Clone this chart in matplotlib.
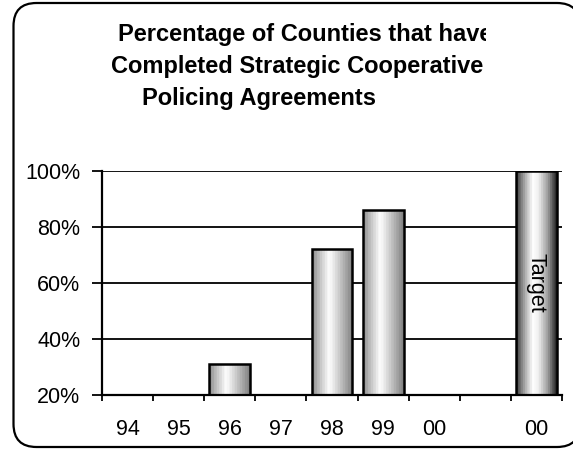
import numpy as np
import matplotlib
matplotlib.use("Agg")
import matplotlib.pyplot as plt
from matplotlib.patches import FancyBboxPatch
from matplotlib.colors import LinearSegmentedColormap
from matplotlib.transforms import Bbox

plt.rcParams["font.family"] = ["Liberation Sans", "DejaVu Sans"]

# ─── Data ────────────────────────────────────────────────────────────────
categories = ["94", "95", "96", "97", "98", "99", "00", "", "00"]
values = [None, None, 31, None, 72, 86, None, None, 100]
target_idx = 8
title_lines = ["Percentage of Counties that have",
               "Completed Strategic Cooperative",
               "Policing Agreements"]
yticks = [20, 40, 60, 80, 100]

W, H = 573, 449
fig = plt.figure(figsize=(W / 100, H / 100), dpi=100, facecolor="white")

# Background canvas in pixel coordinates for the rounded frame and title
bg = fig.add_axes([0, 0, 1, 1], zorder=0)
bg.set_xlim(0, W)
bg.set_ylim(H, 0)
bg.axis("off")
frame = FancyBboxPatch((13.5, 3), 580 - 13.5, 447 - 3,
                       boxstyle="round,pad=0,rounding_size=23",
                       fc="white", ec="black", lw=1.6)
bg.add_patch(frame)

# title is cut off on the right, like in the original
clip_box = Bbox.from_extents(0, 0, 486, H)
title_x = [305, 297, 259]
title_y = [41, 73, 105]
for txt, tx, ty in zip(title_lines, title_x, title_y):
    t = bg.text(tx, ty, txt, ha="center", va="baseline",
                fontsize=17, fontweight="bold", color="black")
    t.set_clip_on(True)
    t.set_clip_box(clip_box)

# ─── Plot area ───────────────────────────────────────────────────────────
ax = fig.add_axes([102 / W, 1 - 395 / H, (562 - 102) / W, (395 - 171) / H],
                  zorder=1)
ax.patch.set_alpha(0)
n = len(categories)

for y in yticks[1:]:
    ax.axhline(y, color="black", lw=1.3, zorder=1)

# Cylinder-like shading of the bars
reg_cmap = LinearSegmentedColormap.from_list(
    "reg", [(0, "#939393"), (0.15, "#bdbdbd"), (0.42, "#ffffff"),
            (0.75, "#bababa"), (1, "#858585")], N=16)
tgt_cmap = LinearSegmentedColormap.from_list(
    "tgt", [(0, "#444444"), (0.12, "#858585"), (0.4, "#ffffff"),
            (0.55, "#f0f0f0"), (0.8, "#9a9a9a"), (1, "#2c2c2c")], N=18)
grad = np.linspace(0, 1, 256).reshape(1, -1)

bw = 0.8
for i, v in enumerate(values):
    if v is None:
        continue
    bar = ax.bar(i + 0.5, v - 20, bottom=20, width=bw, fc="none",
                 ec="black", lw=1.8, zorder=3)[0]
    cmap = tgt_cmap if i == target_idx else reg_cmap
    im = ax.imshow(grad, cmap=cmap, aspect="auto", zorder=2,
                   extent=(i + 0.5 - bw / 2, i + 0.5 + bw / 2, 20, v))
    im.set_clip_path(bar)

ax.text(target_idx + 0.5, 60, "Target", rotation=-90, ha="center",
        va="center", fontsize=15.5, color="black", zorder=4)

ax.set_xlim(0, n)
ax.set_ylim(20, 100)

for s in ["top", "right"]:
    ax.spines[s].set_visible(False)
ax.spines["left"].set_linewidth(1.6)
ax.spines["bottom"].set_linewidth(1.6)

ax.set_yticks(yticks)
ax.set_yticklabels([f"{y}%" for y in yticks])
ax.tick_params(axis="y", direction="out", length=7.5, width=1.3,
               pad=8, labelsize=15.5)

ax.set_xticks(np.arange(n + 1))
ax.set_xticklabels([])
ax.set_xticks(np.arange(n) + 0.5, minor=True)
ax.set_xticklabels(categories, minor=True)
ax.tick_params(axis="x", which="major", direction="out", length=4,
               width=1.3)
ax.tick_params(axis="x", which="minor", length=0, pad=17, labelsize=15.5)

fig.savefig("out.png", dpi=100, facecolor="white")
